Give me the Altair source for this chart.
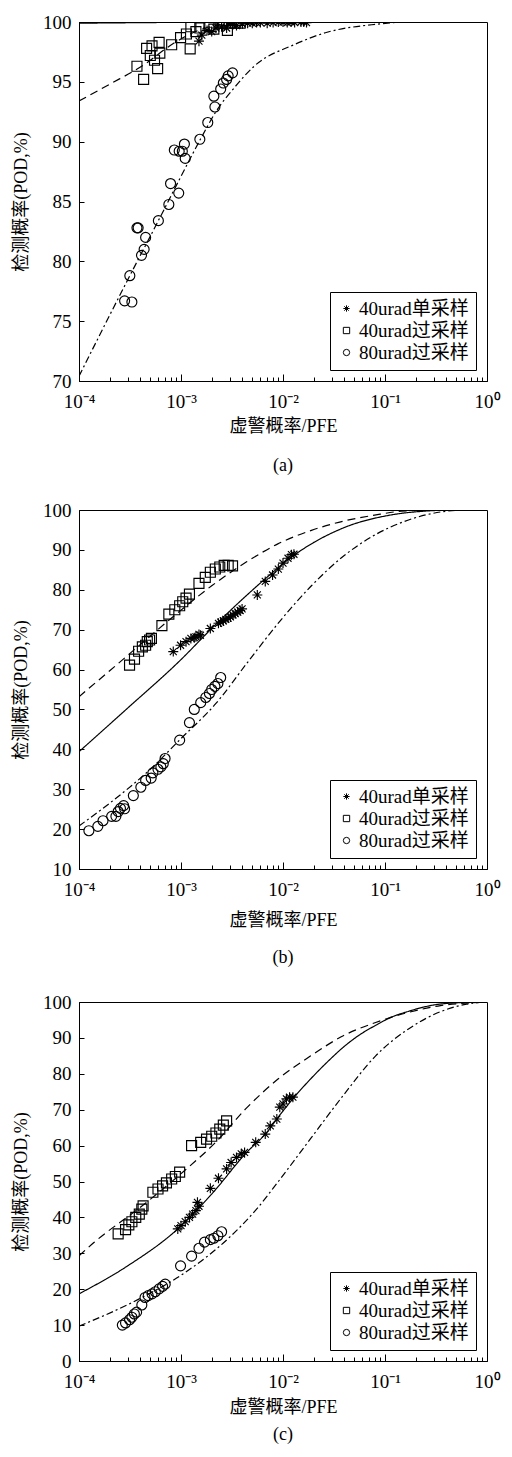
import altair as alt
import pandas as pd

FONT = "Liberation Serif, Noto Sans CJK SC, serif"
SERIES = ["40urad单采样", "40urad过采样", "80urad过采样"]
X_TICKS = [1e-4, 1e-3, 1e-2, 1e-1, 1]
X_TICK_LABELS = ["10⁻⁴", "10⁻³", "10⁻²", "10⁻¹", "10⁰"]
X_MINOR = [2e-4, 3e-4, 4e-4, 5e-4, 6e-4, 7e-4, 8e-4, 9e-4,
           2e-3, 3e-3, 4e-3, 5e-3, 6e-3, 7e-3, 8e-3, 9e-3,
           2e-2, 3e-2, 4e-2, 5e-2, 6e-2, 7e-2, 8e-2, 9e-2,
           0.2, 0.3, 0.4, 0.5, 0.6, 0.7, 0.8, 0.9]
CAPTIONS = ["(a)", "(b)", "(c)"]
X_TITLE = "虚警概率/PFE"
Y_TITLE = "检测概率(POD,%)"

# ---------------- panel (a) ----------------
a_single_x = [1.5e-3, 1.6e-3, 1.8e-3, 2.0e-3, 2.2e-3, 2.5e-3, 2.8e-3, 3.2e-3, 3.5e-3, 4.0e-3, 4.5e-3, 5.0e-3,
              5.5e-3, 6.0e-3, 7.0e-3, 8.0e-3, 9.0e-3, 1.0e-2, 1.1e-2, 1.2e-2, 1.3e-2, 1.5e-2, 1.6e-2, 1.7e-2]
a_single_y = [98.4, 98.9, 99.3, 99.2, 99.5, 99.6, 99.5, 99.8, 99.7, 99.85, 99.9, 99.9,
              99.95, 99.95, 99.9, 99.95, 100, 100, 99.95, 100, 99.95, 100, 100, 99.95]
a_over40_x = [3.7e-4, 4.3e-4, 4.6e-4, 5.0e-4, 5.2e-4, 5.5e-4, 5.9e-4, 6.1e-4, 6.2e-4, 8.1e-4, 9.9e-4, 1.13e-3,
              1.23e-3, 1.25e-3, 1.4e-3, 1.53e-3, 1.88e-3, 2.1e-3, 2.55e-3, 2.85e-3, 2.95e-3, 3.4e-3, 3.8e-3]
a_over40_y = [96.3, 95.2, 97.8, 97.2, 98.0, 96.8, 96.1, 98.3, 97.4, 98.1, 98.7, 99.0,
              97.75, 99.6, 99.2, 99.5, 99.65, 99.4, 99.9, 99.3, 99.9, 99.9, 99.9]
a_over80_x = [2.8e-4, 3.3e-4, 3.15e-4, 3.7e-4, 3.8e-4, 4.1e-4, 4.35e-4, 4.5e-4, 6.0e-4, 7.6e-4, 7.9e-4, 9.5e-4,
              8.6e-4, 9.6e-4, 1.03e-3, 1.08e-3, 1.1e-3, 1.53e-3, 1.83e-3, 2.15e-3, 2.1e-3, 2.45e-3, 2.6e-3,
              2.8e-3, 2.9e-3, 3.2e-3]
a_over80_y = [76.7, 76.6, 78.8, 82.8, 82.8, 80.5, 81.0, 82.0, 83.4, 84.75, 86.5, 85.7,
              89.3, 89.2, 89.2, 89.8, 88.6, 90.2, 91.6, 92.9, 93.8, 94.4, 94.9,
              95.2, 95.5, 95.75]
a_curve_single_x = [1e-4, 1e-3, 1e-2, 1]
a_curve_single_y = [99.9, 99.97, 100, 100]
a_curve_over40_x = [1e-4, 2e-4, 4.3e-4, 8.4e-4, 1.74e-3, 4e-3, 1e-2, 1]
a_curve_over40_y = [93.4, 94.8, 96.4, 98.2, 99.5, 99.95, 100, 100]
a_curve_over80_x = [1e-4, 3.15e-4, 6e-4, 1e-3, 1.55e-3, 2.2e-3, 3.4e-3, 5.2e-3, 1.28e-2, 2.6e-2, 8e-2, 0.17, 1]
a_curve_over80_y = [70.4, 78.8, 83.4, 87.1, 90.2, 92.5, 94.6, 96.3, 98.1, 99.1, 99.8, 100, 100]

# ---------------- panel (b) ----------------
b_single_x = [8.4e-4, 9.9e-4, 1.12e-3, 1.25e-3, 1.35e-3, 1.4e-3, 1.5e-3, 1.55e-3, 1.94e-3, 2.33e-3, 2.45e-3,
              2.6e-3, 2.75e-3, 2.9e-3, 3.05e-3, 3.24e-3, 3.4e-3, 3.6e-3, 3.8e-3, 3.97e-3, 5.6e-3, 6.7e-3,
              7.9e-3, 9.0e-3, 1.0e-2, 1.12e-2, 1.21e-2, 1.28e-2]
b_single_y = [64.5, 66.1, 67.0, 67.8, 68.0, 68.2, 68.8, 68.6, 70.3, 71.6, 71.9,
              72.2, 72.6, 72.9, 73.2, 73.7, 74.0, 74.4, 74.8, 75.2, 78.7, 82.1,
              83.7, 85.2, 86.7, 87.9, 88.8, 88.9]
b_over40_x = [3.13e-4, 3.5e-4, 3.84e-4, 4.18e-4, 4.5e-4, 4.67e-4, 4.92e-4, 5.13e-4, 6.5e-4, 7.6e-4, 8.7e-4,
              9.7e-4, 1.04e-3, 1.12e-3, 1.21e-3, 1.5e-3, 1.73e-3, 1.94e-3, 2.17e-3, 2.4e-3, 2.65e-3, 2.9e-3, 3.2e-3]
b_over40_y = [61.1, 62.6, 64.6, 65.7, 66.1, 67.0, 67.4, 67.8, 71.0, 73.9, 75.0,
              76.0, 77.0, 77.9, 78.9, 81.6, 83.1, 84.4, 85.2, 85.7, 86.1, 86.1, 86.0]
b_over80_x = [1.25e-4, 1.53e-4, 1.72e-4, 2.09e-4, 2.3e-4, 2.42e-4, 2.55e-4, 2.74e-4, 2.8e-4, 3.41e-4, 4.04e-4,
              4.5e-4, 5.1e-4, 5.3e-4, 5.95e-4, 6.35e-4, 6.7e-4, 6.98e-4, 9.7e-4, 1.21e-3, 1.35e-3, 1.56e-3,
              1.75e-3, 1.9e-3, 2.0e-3, 2.15e-3, 2.3e-3, 2.45e-3]
b_over80_y = [19.6, 20.7, 22.1, 23.2, 23.2, 24.4, 25.2, 25.9, 25.1, 28.4, 30.5,
              32.2, 32.8, 34.1, 35.0, 35.6, 36.4, 37.7, 42.3, 46.7, 50.0, 51.7,
              53.0, 54.0, 55.0, 55.8, 56.5, 58.0]
b_curve_single_x = [1e-4, 2.9e-4, 1e-3, 2e-3, 4.4e-3, 6.8e-3, 1.29e-2, 3.9e-2, 0.117, 0.24, 0.5, 1]
b_curve_single_y = [39.4, 50.0, 62.5, 70.3, 78.6, 82.9, 88.7, 95.5, 98.8, 99.7, 100, 100]
b_curve_over40_x = [1e-4, 2e-4, 5e-4, 1e-3, 2e-3, 4.4e-3, 8.9e-3, 1.9e-2, 3.9e-2, 7.9e-2, 0.145, 0.3, 1]
b_curve_over40_y = [53.2, 59.7, 68.4, 74.9, 81.0, 87.0, 91.5, 94.9, 97.2, 98.7, 99.7, 100, 100]
b_curve_over80_x = [1e-4, 2e-4, 5e-4, 1e-3, 2.2e-3, 4.4e-3, 8.9e-3, 1.9e-2, 3.9e-2, 7.9e-2, 0.17, 0.35, 0.6, 1]
b_curve_over80_y = [20.8, 26.5, 35.0, 42.7, 51.5, 61.5, 71.5, 81.0, 88.4, 93.7, 97.5, 99.5, 100, 100]

# ---------------- panel (c) ----------------
c_single_x = [9.3e-4, 1.0e-3, 1.1e-3, 1.21e-3, 1.3e-3, 1.4e-3, 1.45e-3, 1.5e-3, 1.94e-3, 2.33e-3, 2.8e-3,
              3.1e-3, 3.5e-3, 3.9e-3, 4.2e-3, 5.4e-3, 6.7e-3, 7.5e-3, 8.7e-3, 9.3e-3, 1.0e-2, 1.08e-2,
              1.16e-2, 1.25e-2]
c_single_y = [36.8, 37.7, 38.8, 40.0, 40.9, 41.9, 44.2, 43.1, 48.1, 50.9, 53.5,
              55.3, 56.7, 57.7, 58.1, 60.9, 63.2, 65.5, 67.4, 70.7, 71.6, 73.0,
              73.5, 73.5]
c_over40_x = [2.42e-4, 2.86e-4, 3.08e-4, 3.3e-4, 3.6e-4, 3.9e-4, 4.13e-4, 4.25e-4, 5.3e-4, 5.95e-4, 6.6e-4,
              7.2e-4, 8.1e-4, 8.8e-4, 9.7e-4, 1.27e-3, 1.56e-3, 1.78e-3, 2.0e-3, 2.2e-3, 2.4e-3, 2.6e-3, 2.8e-3]
c_over40_y = [35.4, 36.6, 37.9, 38.8, 40.0, 40.9, 42.3, 43.2, 47.0, 47.9, 48.8,
              49.6, 50.7, 51.4, 52.6, 60.0, 60.9, 61.8, 62.6, 63.5, 64.6, 65.7, 66.9]
c_over80_x = [2.66e-4, 2.86e-4, 3.13e-4, 3.3e-4, 3.49e-4, 3.67e-4, 4.13e-4, 4.44e-4, 4.77e-4, 5.2e-4, 5.6e-4,
              6.1e-4, 6.6e-4, 7.0e-4, 9.9e-4, 1.27e-3, 1.5e-3, 1.7e-3, 1.94e-3, 2.1e-3, 2.3e-3, 2.5e-3]
c_over80_y = [10.0, 10.6, 11.5, 12.2, 13.1, 13.6, 15.6, 17.7, 18.2, 18.7, 19.3,
              20.1, 20.8, 21.4, 26.5, 29.2, 31.4, 33.1, 33.8, 34.2, 34.9, 36.0]
c_curve_single_x = [1e-4, 3e-4, 9.3e-4, 2e-3, 4.4e-3, 6.7e-3, 9.6e-3, 1.29e-2, 1.87e-2, 2.7e-2, 3.9e-2, 5.6e-2,
                    8.1e-2, 0.116, 0.17, 0.24, 0.4, 1]
c_curve_single_y = [18.7, 26.5, 36.8, 46.5, 58.1, 63.2, 69.0, 73.5, 78.6, 83.2, 87.4, 90.8,
                    93.5, 95.8, 97.4, 98.6, 99.6, 100]
c_curve_over40_x = [1e-4, 1.4e-4, 4.2e-4, 1.08e-3, 2.2e-3, 4.4e-3, 9e-3, 1.87e-2, 3.9e-2, 8.1e-2, 0.17, 0.35,
                    0.63, 1]
c_curve_over40_y = [29.3, 33.0, 43.3, 53.0, 61.0, 70.5, 78.6, 85.0, 90.6, 94.3, 97.1, 99.0, 99.7, 100]
c_curve_over80_x = [1e-4, 3.9e-4, 1.08e-3, 3e-3, 5.4e-3, 9e-3, 1.87e-2, 3.9e-2, 8.1e-2, 0.17, 0.35, 0.63, 1]
c_curve_over80_y = [9.7, 17.3, 24.5, 34.5, 42.0, 50.0, 62.0, 74.0, 85.0, 92.5, 97.3, 99.4, 100]

Y_DOMAINS = [(70, 100), (10, 100), (0, 100)]
Y_TICKS = [list(range(70, 101, 5)), list(range(10, 101, 10)), list(range(0, 101, 10))]

ASTERISK = "M0,-1L0,1M-1,0L1,0M-0.7,-0.7L0.7,0.7M-0.7,0.7L0.7,-0.7"
DASH_DOMAIN = [SERIES[1], SERIES[0], SERIES[2]]
DASH_RANGE = [[8, 5], [1, 0], [7, 3, 2, 3]]

XT_PAD = [6, 12, 7]
CAP_OFF = [22, 20, 10]


def frame(pairs):
    rows = []
    for name, xs, ys in pairs:
        for xv, yv in zip(xs, ys):
            rows.append({"series": name, "x": xv, "y": yv})
    return pd.DataFrame(rows)


POINTS = [
    frame([(SERIES[0], a_single_x, a_single_y), (SERIES[1], a_over40_x, a_over40_y), (SERIES[2], a_over80_x, a_over80_y)]),
    frame([(SERIES[0], b_single_x, b_single_y), (SERIES[1], b_over40_x, b_over40_y), (SERIES[2], b_over80_x, b_over80_y)]),
    frame([(SERIES[0], c_single_x, c_single_y), (SERIES[1], c_over40_x, c_over40_y), (SERIES[2], c_over80_x, c_over80_y)]),
]
CURVES = [
    frame([(SERIES[0], a_curve_single_x, a_curve_single_y), (SERIES[1], a_curve_over40_x, a_curve_over40_y),
           (SERIES[2], a_curve_over80_x, a_curve_over80_y)]),
    frame([(SERIES[0], b_curve_single_x, b_curve_single_y), (SERIES[1], b_curve_over40_x, b_curve_over40_y),
           (SERIES[2], b_curve_over80_x, b_curve_over80_y)]),
    frame([(SERIES[0], c_curve_single_x, c_curve_single_y), (SERIES[1], c_curve_over40_x, c_curve_over40_y),
           (SERIES[2], c_curve_over80_x, c_curve_over80_y)]),
]

label_expr = "[" + ",".join("'" + s + "'" for s in X_TICK_LABELS) + "][round(log(datum.value)/LN10)+4]"


def panel(i):
    ymin, ymax = Y_DOMAINS[i]
    xs = alt.Scale(type="log", domain=[1e-4, 1], nice=False)
    ys = alt.Scale(domain=[ymin, ymax], nice=False, zero=False)
    x_major = alt.Axis(values=X_TICKS, labelExpr=label_expr, tickSize={"expr": "-7"}, labelPadding=18,
                       grid=False, title=X_TITLE, titlePadding=XT_PAD[i], labelFontSize=19, titleFontSize=18,
                       labelFont=FONT, titleFont=FONT, labelFlush=False, orient="bottom")
    x_minor = alt.Axis(values=X_MINOR, labels=False, domain=False, tickSize={"expr": "-4"}, grid=False,
                       title=None, orient="bottom")
    y_axis = alt.Axis(values=Y_TICKS[i], tickSize={"expr": "-5"}, labelPadding=13, grid=False,
                      title=Y_TITLE, titlePadding=12, labelFontSize=19, titleFontSize=18,
                      labelFont=FONT, titleFont=FONT)
    lines = alt.Chart(CURVES[i]).mark_line(color="black", strokeWidth=1.2, clip=True,
                                           interpolate="monotone").encode(
        x=alt.X("x:Q", scale=xs, axis=x_major),
        y=alt.Y("y:Q", scale=ys, axis=y_axis),
        strokeDash=alt.StrokeDash("series:N", scale=alt.Scale(domain=DASH_DOMAIN, range=DASH_RANGE),
                                  legend=None),
    )
    pts = alt.Chart(POINTS[i]).mark_point(filled=False, color="black", size=100, strokeWidth=1.15,
                                          opacity=1, clip=True).encode(
        x=alt.X("x:Q", scale=xs, axis=x_minor),
        y=alt.Y("y:Q", scale=ys, axis=y_axis),
        shape=alt.Shape("series:N", scale=alt.Scale(domain=SERIES, range=[ASTERISK, "square", "circle"]),
                        legend=alt.Legend(title=None, orient="bottom-right", offset=11, strokeColor="black",
                                          fillColor="white", padding=7, labelFontSize=19, labelFont=FONT,
                                          labelColor="black", symbolSize=40, symbolStrokeWidth=1,
                                          symbolStrokeColor="black", rowPadding=2, labelOffset=3)),
    )
    return alt.layer(lines, pts).resolve_axis(x="independent").properties(
        width=408, height=359,
        title=alt.TitleParams(CAPTIONS[i], orient="bottom", fontSize=18, font=FONT, fontWeight="normal",
                              offset=CAP_OFF[i], color="black"),
    )


chart = alt.vconcat(panel(0), panel(1), panel(2), spacing=24).resolve_scale(
    shape="independent", strokeDash="independent"
).properties(
    padding={"left": 4, "top": 4, "right": 0, "bottom": 0}
).configure(background="white").configure_view(stroke="black", strokeWidth=1).configure_axis(
    domainColor="black", tickColor="black", labelColor="black", titleColor="black",
    titleFontWeight="normal", tickWidth=1, domainWidth=1
)

chart.save("out.html", embed_options={"renderer": "svg", "actions": False})
